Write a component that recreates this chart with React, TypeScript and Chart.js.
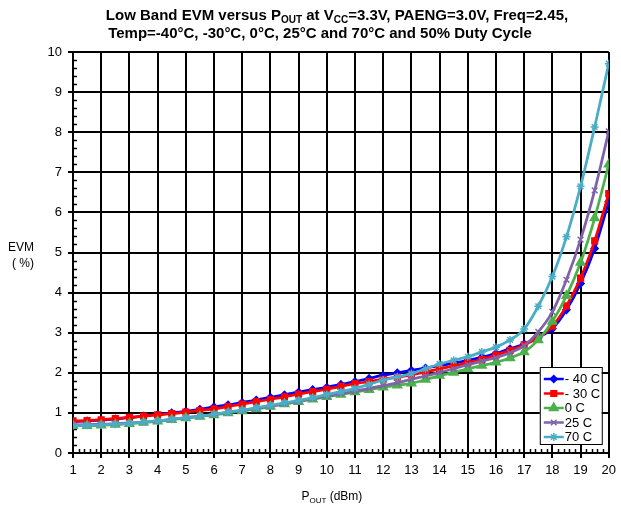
import React, { useEffect, useRef } from "react";
import { Chart, registerables } from "chart.js";
import { drawPoint } from "chart.js/helpers";

Chart.register(...registerables);

// ---- data ----
const POUT = [1, 1.5, 2, 2.5, 3, 3.5, 4, 4.5, 5, 5.5, 6, 6.5, 7, 7.5, 8, 8.5, 9, 9.5, 10, 10.5, 11, 11.5, 12, 12.5, 13, 13.5, 14, 14.5, 15, 15.5, 16, 16.5, 17, 17.5, 18, 18.5, 19, 19.5, 20];

const EVM_M40 = [0.78, 0.8, 0.82, 0.85, 0.88, 0.92, 0.96, 1.0, 1.04, 1.09, 1.15, 1.2, 1.26, 1.32, 1.39, 1.45, 1.52, 1.58, 1.64, 1.71, 1.78, 1.86, 1.94, 2.0, 2.06, 2.12, 2.18, 2.24, 2.31, 2.39, 2.48, 2.6, 2.72, 2.88, 3.1, 3.57, 4.23, 5.1, 6.27];
const EVM_M30 = [0.8, 0.81, 0.83, 0.86, 0.89, 0.92, 0.95, 0.98, 1.02, 1.06, 1.1, 1.16, 1.22, 1.28, 1.34, 1.4, 1.47, 1.53, 1.59, 1.66, 1.73, 1.78, 1.84, 1.89, 1.95, 2.02, 2.1, 2.17, 2.25, 2.33, 2.44, 2.56, 2.7, 2.88, 3.16, 3.67, 4.36, 5.29, 6.47];
const EVM_0 = [0.68, 0.68, 0.69, 0.71, 0.73, 0.76, 0.79, 0.83, 0.87, 0.91, 0.95, 1.0, 1.05, 1.1, 1.16, 1.22, 1.28, 1.34, 1.4, 1.46, 1.52, 1.58, 1.64, 1.69, 1.74, 1.83, 1.93, 2.01, 2.1, 2.18, 2.26, 2.37, 2.52, 2.82, 3.28, 3.92, 4.75, 5.86, 7.2];
const EVM_25 = [0.7, 0.71, 0.72, 0.73, 0.75, 0.77, 0.8, 0.84, 0.88, 0.92, 0.96, 1.01, 1.06, 1.11, 1.17, 1.23, 1.29, 1.36, 1.42, 1.48, 1.54, 1.61, 1.68, 1.75, 1.84, 1.92, 2.01, 2.1, 2.2, 2.29, 2.38, 2.5, 2.68, 3.02, 3.52, 4.32, 5.32, 6.55, 8.02];
const EVM_70 = [0.68, 0.69, 0.7, 0.72, 0.74, 0.77, 0.8, 0.84, 0.88, 0.92, 0.97, 1.02, 1.07, 1.13, 1.19, 1.25, 1.31, 1.38, 1.46, 1.53, 1.61, 1.71, 1.82, 1.9, 1.98, 2.1, 2.22, 2.31, 2.4, 2.52, 2.64, 2.82, 3.09, 3.66, 4.4, 5.39, 6.65, 8.13, 9.71];

const SERIES_LABELS = ["- 40 C", "- 30 C", "0 C", "25 C", "70 C"];
const SERIES_VALUES = [EVM_M40, EVM_M30, EVM_0, EVM_25, EVM_70];
const SERIES_COLORS = ["#0000FF", "#FF0000", "#4CB04C", "#7F63A8", "#4BACC6"];
const SERIES_MARKERS = ["rectRot", "rect", "triangle", "crossRot", "star"];
const SERIES_RADII = [3.5, 4, 5, 4, 4];

const X_MIN = 1, X_MAX = 20, Y_MIN = 0, Y_MAX = 10;

const TITLE_LINE1 = [
  { t: "Low Band EVM versus P" },
  { t: "OUT", sub: true },
  { t: " at V" },
  { t: "CC", sub: true },
  { t: "=3.3V, PAENG=3.0V, Freq=2.45," },
];
const TITLE_LINE2 = [{ t: "Temp=-40°C, -30°C, 0°C, 25°C and 70°C and 50% Duty Cycle" }];
const X_TITLE = [{ t: "P" }, { t: "OUT", sub: true }, { t: " (dBm)" }];
const Y_TITLE = ["EVM", "( %)"];

const FONT = "'Liberation Sans', Arial, sans-serif";

type Seg = { t: string; sub?: boolean };

function drawRich(ctx: CanvasRenderingContext2D, segs: Seg[], cx: number, y: number, size: number, bold: boolean) {
  const w0 = bold ? "bold " : "";
  const main = `${w0}${size}px ${FONT}`;
  const sub = `${w0}${Math.round(size * 0.68)}px ${FONT}`;
  let w = 0;
  for (const s of segs) {
    ctx.font = s.sub ? sub : main;
    w += ctx.measureText(s.t).width;
  }
  let x = cx - w / 2;
  ctx.textAlign = "left";
  ctx.textBaseline = "alphabetic";
  for (const s of segs) {
    ctx.font = s.sub ? sub : main;
    ctx.fillText(s.t, x, y + (s.sub ? size * 0.22 : 0));
    x += ctx.measureText(s.t).width;
  }
}

const decorations = {
  id: "decorations",
  beforeDatasetsDraw(chart: any) {
    const { ctx, chartArea, scales } = chart;
    ctx.save();
    ctx.strokeStyle = "#000";
    ctx.lineWidth = 1.5;
    for (let k = 1; k < 50; k++) {
      if (k % 5 === 0) continue;
      const v = Y_MIN + k * 0.2;
      const y = Math.round(scales.y.getPixelForValue(v)) + 0.5;
      ctx.beginPath();
      ctx.moveTo(chartArea.left, y);
      ctx.lineTo(chartArea.left + 4, y);
      ctx.stroke();
    }
    for (let k = 1; k < 95; k++) {
      if (k % 5 === 0) continue;
      const v = X_MIN + k * 0.2;
      const x = Math.round(scales.x.getPixelForValue(v)) + 0.5;
      ctx.beginPath();
      ctx.moveTo(x, chartArea.bottom);
      ctx.lineTo(x, chartArea.bottom - 4);
      ctx.stroke();
    }
    ctx.restore();
  },
  afterDraw(chart: any) {
    const { ctx, chartArea } = chart;
    ctx.save();
    ctx.fillStyle = "#000";
    // title
    drawRich(ctx, TITLE_LINE1, 337, 20, 15, true);
    drawRich(ctx, TITLE_LINE2, 320, 38, 15, true);
    // axis titles
    const cxArea = (chartArea.left + chartArea.right) / 2;
    drawRich(ctx, X_TITLE, cxArea - 9, 500, 12, false);
    ctx.font = `12px ${FONT}`;
    ctx.textAlign = "center";
    ctx.textBaseline = "alphabetic";
    ctx.fillText(Y_TITLE[0], 21, 251);
    ctx.fillText(Y_TITLE[1], 23, 267);

    // legend
    const lw = 62, lh = 77;
    const lx = chartArea.right - 69, ly = chartArea.bottom - 86;
    ctx.fillStyle = "#fff";
    ctx.fillRect(lx, ly, lw, lh);
    ctx.strokeStyle = "#000";
    ctx.lineWidth = 1;
    ctx.strokeRect(lx + 0.5, ly + 0.5, lw, lh);
    SERIES_LABELS.forEach((lab, i) => {
      const y = ly + 12 + i * 14.5;
      const c = SERIES_COLORS[i];
      ctx.strokeStyle = c;
      ctx.fillStyle = c;
      ctx.lineWidth = 2.5;
      ctx.beginPath();
      ctx.moveTo(lx + 4, y);
      ctx.lineTo(lx + 24, y);
      ctx.stroke();
      ctx.lineWidth = 1.5;
      drawPoint(ctx, { pointStyle: SERIES_MARKERS[i] as any, radius: SERIES_RADII[i], rotation: 0, borderWidth: 1.5 }, lx + 14, y);
      ctx.fillStyle = "#000";
      ctx.font = `13px ${FONT}`;
      ctx.textAlign = "left";
      ctx.textBaseline = "middle";
      ctx.fillText(lab, lx + 25, y + 0.5);
    });
    ctx.restore();
  },
};

export default function App() {
  const ref = useRef<HTMLCanvasElement>(null);
  useEffect(() => {
    if (!ref.current) return;
    const datasets = SERIES_VALUES.map((vals, i) => ({
      label: SERIES_LABELS[i],
      data: POUT.map((x, j) => ({ x, y: vals[j] })),
      borderColor: SERIES_COLORS[i],
      backgroundColor: SERIES_COLORS[i],
      pointBackgroundColor: SERIES_COLORS[i],
      pointBorderColor: SERIES_COLORS[i],
      pointStyle: SERIES_MARKERS[i] as any,
      pointRadius: SERIES_RADII[i],
      pointBorderWidth: 1.5,
      borderWidth: 2.75,
      cubicInterpolationMode: "monotone" as const,
      order: SERIES_LABELS.length - i,
    }));
    const chart = new Chart(ref.current, {
      type: "line",
      data: { datasets },
      options: {
        animation: false,
        responsive: false,
        devicePixelRatio: 1,
        layout: { padding: { left: 0, right: 9, top: 52, bottom: 0 } },
        plugins: { legend: { display: false }, title: { display: false }, tooltip: { enabled: false } },
        scales: {
          x: {
            type: "linear",
            min: X_MIN,
            max: X_MAX,
            ticks: { stepSize: 1, color: "#000", font: { family: FONT, size: 13 }, padding: 5, maxRotation: 0 },
            grid: { color: "#000", lineWidth: 2, tickLength: 5 },
            border: { color: "#000", width: 2 },
            afterFit: (s: any) => { s.height = 55; },
          },
          y: {
            type: "linear",
            min: Y_MIN,
            max: Y_MAX,
            ticks: { stepSize: 1, color: "#000", font: { family: FONT, size: 13 }, padding: 6 },
            grid: { color: "#000", lineWidth: 2, tickLength: 5 },
            border: { color: "#000", width: 2 },
            afterFit: (s: any) => { s.width = 73; },
          },
        },
      },
      plugins: [decorations],
    });
    return () => chart.destroy();
  }, []);
  return (
    <div style={{ position: "fixed", left: 0, top: 0, width: 621, height: 508, background: "#fff" }}>
      <canvas ref={ref} width={621} height={508} style={{ display: "block", width: 621, height: 508 }} />
    </div>
  );
}
